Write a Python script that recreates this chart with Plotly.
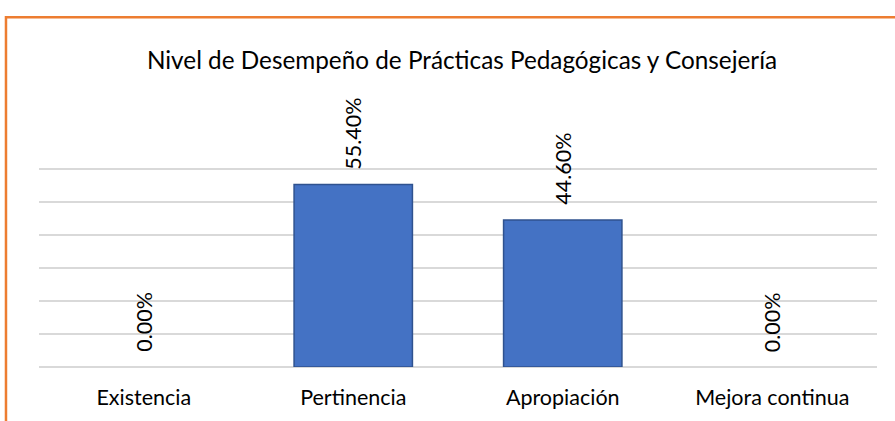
import plotly.graph_objects as go

# Data
categories = ["Existencia", "Pertinencia", "Apropiación", "Mejora continua"]
values = [0.0, 55.4, 44.6, 0.0]
labels = ["0.00%", "55.40%", "44.60%", "0.00%"]
grid_values = [0, 10, 20, 30, 40, 50, 60]

title = "Nivel de Desempeño de Prácticas Pedagógicas y Consejería"
font_family = "Lato, 'Open Sans', sans-serif"

W, H = 895, 421

fig = go.Figure()
fig.add_trace(
    go.Bar(
        x=categories,
        y=values,
        width=0.565,
        marker=dict(
            color="#4472C4",
            line=dict(color="#2F528F", width=[1.5 if v > 0 else 0 for v in values]),
        ),
        hoverinfo="x+y",
    )
)

# Rotated value labels above each bar
for cat, val, lab in zip(categories, values, labels):
    fig.add_annotation(
        x=cat,
        y=val,
        text=lab,
        textangle=-90,
        showarrow=False,
        xanchor="center",
        yanchor="bottom",
        yshift=13,
        font=dict(family=font_family, size=21.5, color="#000000"),
    )

# Orange frame around the chart area (right and bottom edges fall off the page)
fig.add_shape(
    type="rect",
    xref="paper",
    yref="paper",
    x0=-0.0394,
    x1=1.2,
    y0=-1.0,
    y1=1.74,
    line=dict(color="#ED7D31", width=2.5),
    fillcolor="rgba(0,0,0,0)",
    layer="below",
)

fig.update_layout(
    width=W,
    height=H,
    margin=dict(l=39, r=W - 877, t=166, b=H - 367, autoexpand=False),
    paper_bgcolor="white",
    plot_bgcolor="white",
    showlegend=False,
    title=dict(
        text=title,
        x=462 / W,
        xanchor="center",
        y=1 - 60 / H,
        yref="container",
        yanchor="middle",
        font=dict(family=font_family, size=24.3, color="#000000"),
    ),
    xaxis=dict(
        showgrid=False,
        showline=False,
        ticks="outside",
        ticklen=11,
        tickcolor="rgba(0,0,0,0)",
        tickfont=dict(family=font_family, size=21.5, color="#000000"),
    ),
    yaxis=dict(
        range=[0, 61],
        tickvals=grid_values,
        showgrid=True,
        gridcolor="#D9D9D9",
        gridwidth=1.5,
        zeroline=True,
        zerolinecolor="#D9D9D9",
        zerolinewidth=1.5,
        showticklabels=False,
        showline=False,
    ),
)

# drop the default body margin so the figure sits at the page origin
fig.write_html(
    "out.html",
    config={"displayModeBar": False},
    post_script="document.body.style.margin = '0';",
)
